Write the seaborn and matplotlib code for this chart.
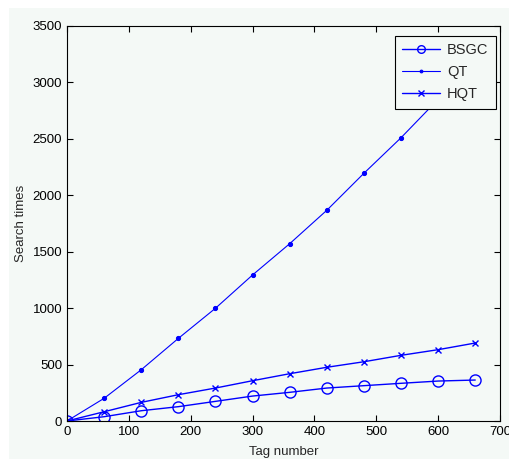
import numpy as np
import pandas as pd
import matplotlib
matplotlib.use("Agg")
import matplotlib.pyplot as plt
from matplotlib.patches import Rectangle
import seaborn as sns

# Data
tag_number = [0, 60, 120, 180, 240, 300, 360, 420, 480, 540, 600, 660]
bsgc = [0, 38, 91, 127, 174, 221, 254, 292, 313, 334, 354, 363]
qt = [0, 201, 454, 732, 999, 1294, 1571, 1867, 2195, 2510, 2850, 3190]
hqt = [0, 82, 165, 233, 292, 357, 419, 476, 525, 582, 632, 691]

df = pd.DataFrame({"Tag number": tag_number, "BSGC": bsgc, "QT": qt, "HQT": hqt})

sns.set_style("ticks")
plt.rcParams['font.family'] = ['Liberation Sans', 'DejaVu Sans']

bg = '#f4f9f6'
fig = plt.figure(figsize=(5.1, 4.59), dpi=100, facecolor='white')
fig.patches.append(Rectangle((9 / 510, 0), 1, 1 - 8 / 459, transform=fig.transFigure,
                             facecolor=bg, edgecolor='none', zorder=-10))
ax = fig.add_axes([67 / 510, 38 / 459, 433 / 510, 395 / 459])
ax.set_facecolor(bg)

blue = '#0000ff'
sns.lineplot(data=df, x="Tag number", y="BSGC", ax=ax, color=blue, lw=1.0,
             marker='o', markersize=8, markerfacecolor='none', markeredgecolor=blue,
             markeredgewidth=1.0, label="BSGC")
sns.lineplot(data=df, x="Tag number", y="QT", ax=ax, color=blue, lw=0.8,
             marker='.', markersize=6, markeredgecolor=blue, label="QT")
sns.lineplot(data=df, x="Tag number", y="HQT", ax=ax, color=blue, lw=1.0,
             marker='x', markersize=5, markeredgewidth=1.0, markeredgecolor=blue, label="HQT")

ax.set_xlim(0, 700)
ax.set_ylim(0, 3500)
ax.set_xticks(np.arange(0, 701, 100))
ax.set_yticks(np.arange(0, 3501, 500))
ax.tick_params(direction='in', top=True, right=True, length=4, width=0.8,
               labelsize=9.5, colors='black')
for s in ax.spines.values():
    s.set_visible(True)
    s.set_color('black')
    s.set_linewidth(0.8)

ax.set_xlabel("Tag number", fontsize=9.5, labelpad=6)
ax.set_ylabel("Search times", fontsize=9.5, labelpad=4)

leg = ax.legend(loc='upper right', bbox_to_anchor=(0.99, 0.975), fontsize=10.5,
                frameon=True, fancybox=False, edgecolor='black', facecolor=bg,
                framealpha=1, handlelength=2.6, borderpad=0.5, labelspacing=0.55,
                handletextpad=0.5, borderaxespad=0)
leg.get_frame().set_linewidth(0.8)
for h, ms in zip(leg.legend_handles, [5.5, 4, 4]):
    h.set_markersize(ms)

fig.savefig("out.png", dpi=100, facecolor=fig.get_facecolor())
